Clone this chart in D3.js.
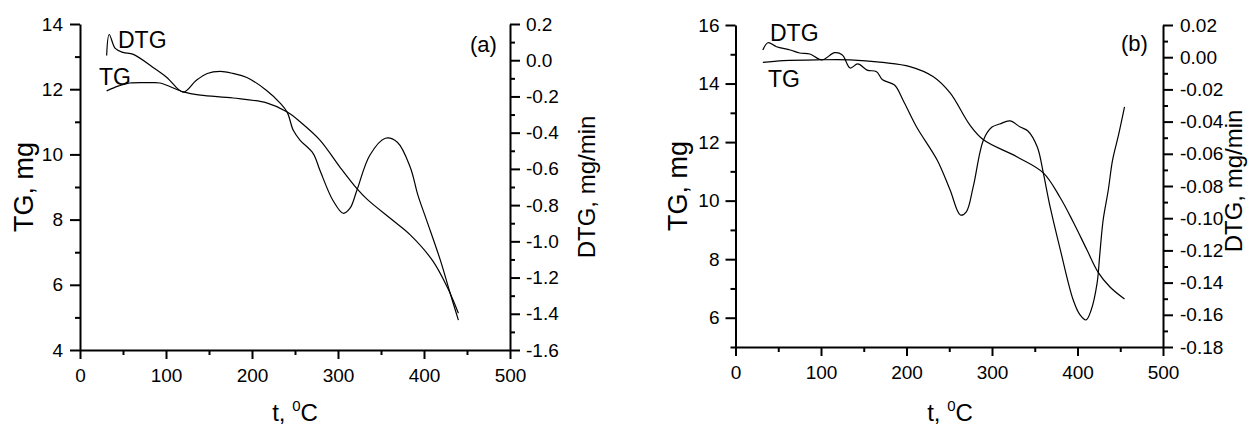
<!DOCTYPE html>
<html><head><meta charset="utf-8">
<script src="https://cdn.jsdelivr.net/npm/d3@7"></script>
<style>
body{margin:0;background:#fff}
svg text{font-family:"Liberation Sans",Arial,sans-serif;fill:#000}
</style>
</head><body>
<svg id="chart" width="1249" height="430"></svg>
<script>
// ---------- shared ticks ----------
const xTicks = [0, 100, 200, 300, 400, 500];
const xMinor = [50, 150, 250, 350, 450];

// ---------- panel (a) ----------
const tgTicksA = [4, 6, 8, 10, 12, 14];
const tgMinorA = [5, 7, 9, 11, 13];
const dtgTicksA = [0.2, 0.0, -0.2, -0.4, -0.6, -0.8, -1.0, -1.2, -1.4, -1.6];
const dtgMinorA = [0.1, -0.1, -0.3, -0.5, -0.7, -0.9, -1.1, -1.3, -1.5];

const tempTG_A = [31, 45, 58, 81, 93, 120, 140, 178, 217, 241, 256, 279, 302, 322, 334, 364, 384, 410, 427, 440];
const valTG_A  = [11.95, 12.1, 12.19, 12.2, 12.19, 11.92, 11.82, 11.73, 11.58, 11.30, 11.0, 10.44, 9.62, 8.95, 8.62, 7.97, 7.53, 6.74, 5.93, 5.13];

const tempDTG_A = [31, 34, 41, 50, 62, 85, 101, 120, 135, 148, 163, 178, 194, 217, 233, 241, 248, 256, 271, 279, 294, 306, 314, 322, 337, 355, 369, 384, 393, 403, 419, 430, 440];
const valDTG_A  = [0.026, 0.142, 0.065, 0.043, 0.032, -0.040, -0.095, -0.176, -0.112, -0.073, -0.062, -0.073, -0.095, -0.167, -0.238, -0.288, -0.387, -0.442, -0.514, -0.608, -0.773, -0.845, -0.817, -0.718, -0.525, -0.431, -0.453, -0.591, -0.746, -0.883, -1.104, -1.28, -1.435];

// ---------- panel (b) ----------
const tgTicksB = [6, 8, 10, 12, 14, 16];
const tgMinorB = [5, 7, 9, 11, 13, 15];
const dtgTicksB = [0.02, 0.00, -0.02, -0.04, -0.06, -0.08, -0.10, -0.12, -0.14, -0.16, -0.18];
const dtgMinorB = [0.01, -0.01, -0.03, -0.05, -0.07, -0.09, -0.11, -0.13, -0.15, -0.17];

const tempTG_B = [32, 56, 95, 134, 172, 204, 231, 251, 274, 290, 329, 360, 380, 395, 411, 424, 438, 455];
const valTG_B  = [14.72, 14.78, 14.81, 14.81, 14.72, 14.58, 14.24, 13.68, 12.59, 12.08, 11.50, 10.95, 10.09, 9.27, 8.32, 7.56, 7.05, 6.64];

const tempDTG_B = [32, 38, 48, 64, 75, 87, 101, 116, 125, 134, 143, 154, 165, 172, 186, 196, 212, 236, 251, 263, 270, 278, 290, 300, 309, 321, 333, 342, 353, 360, 368, 380, 395, 403, 410, 416, 423, 426, 430, 436, 441, 448, 455];
const valDTG_B  = [0.0045, 0.009, 0.0065, 0.0045, 0.0026, 0.002, -0.0017, 0.0028, 0.0014, -0.0067, -0.0042, -0.008, -0.009, -0.014, -0.0173, -0.0267, -0.0435, -0.064, -0.0825, -0.098, -0.096, -0.0806, -0.0514, -0.0434, -0.0415, -0.0396, -0.0434, -0.0458, -0.0558, -0.0719, -0.093, -0.1198, -0.1508, -0.1601, -0.1632, -0.157, -0.140, -0.1229, -0.1011, -0.0825, -0.0639, -0.0483, -0.0309];

// ---------- drawing ----------
const svg = d3.select("#chart");
const hy = s => s.replace(/\u2212/g, "-");

function drawPanel(p) {
  const g = svg.append("g");
  const x = d3.scaleLinear([0, 500], p.xr);
  const yL = d3.scaleLinear(p.yLdom, p.yr);
  const yR = d3.scaleLinear(p.yRdom, p.yr);

  const styleAxis = sel => {
    sel.selectAll("path.domain").attr("stroke-width", 2).attr("stroke", "#000");
    sel.selectAll(".tick line").attr("stroke-width", 2).attr("stroke", "#000");
    sel.selectAll(".tick text").style("font-size", "19px").attr("fill", "#000");
    sel.attr("font-family", null).attr("font-size", null);
  };

  // minor ticks
  g.append("g").attr("transform", `translate(0,${p.yr[0]})`)
    .call(d3.axisBottom(x).tickValues(xMinor).tickSize(5).tickFormat(""))
    .call(s => s.select(".domain").remove()).call(styleAxis);
  g.append("g").attr("transform", `translate(${p.xr[0]},0)`)
    .call(d3.axisLeft(yL).tickValues(p.tgMinor).tickSize(5).tickFormat(""))
    .call(s => s.select(".domain").remove()).call(styleAxis);
  g.append("g").attr("transform", `translate(${p.xr[1]},0)`)
    .call(d3.axisRight(yR).tickValues(p.dtgMinor).tickSize(5).tickFormat(""))
    .call(s => s.select(".domain").remove()).call(styleAxis);

  // major axes
  g.append("g").attr("transform", `translate(0,${p.yr[0]})`)
    .call(d3.axisBottom(x).tickValues(xTicks).tickSize(9).tickPadding(10).tickSizeOuter(0).tickFormat(d3.format("d")))
    .call(styleAxis);
  g.append("g").attr("transform", `translate(${p.xr[0]},0)`)
    .call(d3.axisLeft(yL).tickValues(p.tgTicks).tickSize(10).tickPadding(p.padL).tickSizeOuter(0).tickFormat(d3.format("d")))
    .call(styleAxis);
  g.append("g").attr("transform", `translate(${p.xr[1]},0)`)
    .call(d3.axisRight(yR).tickValues(p.dtgTicks).tickSize(10).tickPadding(p.padR).tickSizeOuter(0).tickFormat(d => hy(d3.format(p.fmt)(d))))
    .call(styleAxis);

  // curves
  const curve = d3.curveCatmullRom.alpha(0.5);
  const lineL = d3.line().x(d => x(d[0])).y(d => yL(d[1])).curve(curve);
  const lineR = d3.line().x(d => x(d[0])).y(d => yR(d[1])).curve(curve);
  g.append("path").attr("d", lineL(d3.zip(p.tTG, p.vTG)))
    .attr("fill", "none").attr("stroke", "#000").attr("stroke-width", 1.2);
  g.append("path").attr("d", lineR(d3.zip(p.tDTG, p.vDTG)))
    .attr("fill", "none").attr("stroke", "#000").attr("stroke-width", 1.2);

  // titles
  g.append("text").attr("transform", `translate(${p.tgTitle[0]},${p.tgTitle[1]}) rotate(-90)`)
    .attr("text-anchor", "middle").style("font-size", "27px").text("TG, mg");
  g.append("text").attr("transform", `translate(${p.dtgTitle[0]},${p.dtgTitle[1]}) rotate(-90)`)
    .attr("text-anchor", "middle").style("font-size", "24px").text("DTG, mg/min");
  const xt = g.append("text").attr("x", p.xTitle[0]).attr("y", p.xTitle[1])
    .attr("text-anchor", "middle").style("font-size", "24px");
  xt.append("tspan").text("t, ");
  xt.append("tspan").attr("dy", -10).style("font-size", "15px").text("0");
  xt.append("tspan").attr("dy", 10).text("C");

  g.append("text").attr("x", p.tag[0]).attr("y", p.tag[1]).style("font-size", "22px").text(p.tagText);
  g.append("text").attr("x", p.dtgLab[0]).attr("y", p.dtgLab[1]).style("font-size", "23px").text("DTG");
  g.append("text").attr("x", p.tgLab[0]).attr("y", p.tgLab[1]).style("font-size", "23px").text("TG");
}

drawPanel({
  xr: [80, 510], yr: [350, 24], yLdom: [4, 14], yRdom: [-1.6, 0.2],
  tgTicks: tgTicksA, tgMinor: tgMinorA, dtgTicks: dtgTicksA, dtgMinor: dtgMinorA,
  fmt: ".1f", padL: 7, padR: 6,
  tTG: tempTG_A, vTG: valTG_A, tDTG: tempDTG_A, vDTG: valDTG_A,
  tgTitle: [33, 187], dtgTitle: [595, 187], xTitle: [295, 421],
  tag: [470, 52], tagText: "(a)", dtgLab: [118, 48], tgLab: [99, 85]
});

drawPanel({
  xr: [735.5, 1163], yr: [347, 25], yLdom: [5, 16], yRdom: [-0.18, 0.02],
  tgTicks: tgTicksB, tgMinor: tgMinorB, dtgTicks: dtgTicksB, dtgMinor: dtgMinorB,
  fmt: ".2f", padL: 6, padR: 7,
  tTG: tempTG_B, vTG: valTG_B, tDTG: tempDTG_B, vDTG: valDTG_B,
  tgTitle: [687, 186], dtgTitle: [1242, 181], xTitle: [950, 421],
  tag: [1121, 51], tagText: "(b)", dtgLab: [770, 41], tgLab: [768, 87]
});
</script>
</body></html>
